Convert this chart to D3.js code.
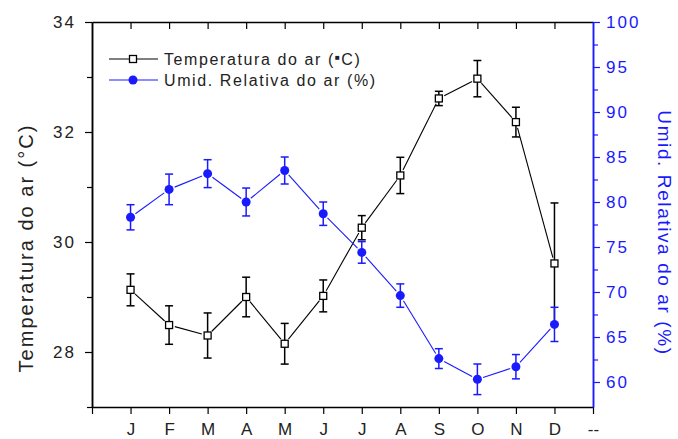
<!DOCTYPE html>
<html>
<head>
<meta charset="utf-8">
<script src="https://cdn.jsdelivr.net/npm/d3@7"></script>
<style>
  body { margin: 0; background: #fff; }
  text { font-family: "Liberation Sans", Arial, sans-serif; }
</style>
</head>
<body>
<svg id="chart" width="678" height="439"></svg>
<script>
// months + the extra "--" slot at the right edge
var months = ["J", "F", "M", "A", "M", "J", "J", "A", "S", "O", "N", "D"];
var temp = [29.13, 28.49, 28.30, 29.00, 28.15, 29.02, 30.26, 31.21, 32.61, 32.97, 32.18, 29.61];
var tempErr = [0.29, 0.35, 0.41, 0.36, 0.37, 0.29, 0.22, 0.33, 0.13, 0.33, 0.27, 1.10];
var hum = [78.3, 81.4, 83.15, 80.0, 83.5, 78.7, 74.4, 69.6, 62.6, 60.3, 61.7, 66.4];
var humErr = [1.4, 1.7, 1.55, 1.55, 1.5, 1.3, 1.2, 1.3, 1.1, 1.7, 1.35, 1.9];
var leftTicks = [28, 30, 32, 34];
var rightTicks = [60, 65, 70, 75, 80, 85, 90, 95, 100];

var blue = "#1a1aff";
var svg = d3.select("#chart");

// note: "top" is a reserved window global, so use plot* names
var plotLeft = 92, plotRight = 593, plotTop = 22, plotBottom = 407;

var x = d3.scaleLinear().domain([0, 13]).range([plotLeft, plotRight]);
var yT = d3.scaleLinear().domain([27, 34]).range([plotBottom, plotTop]);
var yH = d3.scaleLinear().domain([100 - 7 * 55 / 9, 100]).range([plotBottom, plotTop]);

var tickFont = { size: "17px", spacing: "2px" };

// ---- axes ----
// bottom
var xBottom = d3.axisBottom(x)
  .tickValues(d3.range(0, 14))
  .tickSize(7).tickSizeOuter(0)
  .tickFormat(function (d) { return d == 0 ? "" : (d == 13 ? "--" : months[d - 1]); });
var gb = svg.append("g").attr("transform", "translate(0," + plotBottom + ")").call(xBottom);
gb.selectAll("text").attr("dy", "1.05em").style("font-size", tickFont.size).attr("fill", "#222");

// top, ticks point inward
var xTop = d3.axisTop(x).tickValues(d3.range(1, 13)).tickSize(-7).tickSizeOuter(0).tickFormat("");
svg.append("g").attr("transform", "translate(0," + plotTop + ")").call(xTop);

// left
var gl = svg.append("g").attr("transform", "translate(" + plotLeft + ",0)")
  .call(d3.axisLeft(yT).tickValues(leftTicks).tickSize(7).tickSizeOuter(0).tickFormat(d3.format("d")));
gl.selectAll("text").attr("x", -16).style("font-size", tickFont.size).style("letter-spacing", tickFont.spacing).attr("fill", "#222");
svg.append("g").attr("transform", "translate(" + plotLeft + ",0)")
  .call(d3.axisLeft(yT).tickValues([27, 29, 31, 33]).tickSize(5).tickSizeOuter(0).tickFormat(""));

// right, blue
var gr = svg.append("g").attr("transform", "translate(" + plotRight + ",0)")
  .call(d3.axisRight(yH).tickValues(rightTicks).tickSize(7).tickSizeOuter(0).tickFormat(d3.format("d")));
gr.selectAll("text").attr("x", 13).style("font-size", tickFont.size).style("letter-spacing", tickFont.spacing).attr("fill", blue);
gr.selectAll("line").attr("stroke", blue);
gr.select(".domain").attr("stroke", blue);
var grm = svg.append("g").attr("transform", "translate(" + plotRight + ",0)")
  .call(d3.axisRight(yH).tickValues([62.5, 67.5, 72.5, 77.5, 82.5, 87.5, 92.5, 97.5]).tickSize(5).tickSizeOuter(0).tickFormat(""));
grm.selectAll("line").attr("stroke", blue);
grm.select(".domain").attr("stroke", blue);

svg.selectAll(".domain").attr("stroke-width", 1.5);
svg.selectAll(".tick line").attr("stroke-width", 1.2);

// axis titles
svg.append("text")
  .attr("transform", "translate(33,248) rotate(-90)")
  .attr("text-anchor", "middle")
  .style("font-size", "20px").style("letter-spacing", "2px").attr("fill", "#222")
  .text("Temperatura do ar (°C)");
svg.append("text")
  .attr("transform", "translate(658,233) rotate(90)")
  .attr("text-anchor", "middle")
  .style("font-size", "19px").style("letter-spacing", "1.6px").attr("fill", blue)
  .text("Umid. Relativa do ar (%)");

// ---- series ----
function drawSeries(vals, errs, y, color, marker) {
  var g = svg.append("g");
  var pts = vals.map(function (v, i) { return [x(i + 1), y(v)]; });
  // connecting segments, with a little gap at the symbols
  var gap = 6;
  for (var i = 0; i < pts.length - 1; i++) {
    var a = pts[i], b = pts[i + 1];
    var dx = b[0] - a[0], dy = b[1] - a[1], len = Math.sqrt(dx * dx + dy * dy);
    g.append("line")
      .attr("x1", a[0] + dx / len * gap).attr("y1", a[1] + dy / len * gap)
      .attr("x2", b[0] - dx / len * gap).attr("y2", b[1] - dy / len * gap)
      .attr("stroke", color).attr("stroke-width", 1.1);
  }
  // error bars
  vals.forEach(function (v, i) {
    var cx = x(i + 1), y1 = y(v + errs[i]), y2 = y(v - errs[i]);
    g.append("line").attr("x1", cx).attr("x2", cx).attr("y1", y1).attr("y2", y2)
      .attr("stroke", color).attr("stroke-width", 1.5);
    [y1, y2].forEach(function (yy) {
      g.append("line").attr("x1", cx - 4).attr("x2", cx + 4).attr("y1", yy).attr("y2", yy)
        .attr("stroke", color).attr("stroke-width", 1.5);
    });
  });
  pts.forEach(function (p) { marker(g, p[0], p[1]); });
}

function squareMark(g, cx, cy) {
  g.append("rect").attr("x", cx - 3.5).attr("y", cy - 3.5).attr("width", 7).attr("height", 7)
    .attr("fill", "#fff").attr("stroke", "#000").attr("stroke-width", 1.3);
}
function dotMark(g, cx, cy) {
  g.append("circle").attr("cx", cx).attr("cy", cy).attr("r", 4.5).attr("fill", blue);
}

drawSeries(temp, tempErr, yT, "#000", squareMark);
drawSeries(hum, humErr, yH, blue, dotMark);

// ---- legend ----
var leg = svg.append("g");
leg.append("line").attr("x1", 109).attr("x2", 158).attr("y1", 59).attr("y2", 59).attr("stroke", "#000");
squareMark(leg, 133, 59);
var t1 = leg.append("text").attr("x", 164).attr("y", 65).style("font-size", "16px")
  .style("letter-spacing", "1.6px").attr("fill", "#222");
t1.append("tspan").text("Temperatura do ar (");
t1.append("tspan").attr("dy", -5).style("font-size", "8px").text("■");
t1.append("tspan").attr("dy", 5).text("C)");

leg.append("line").attr("x1", 109).attr("x2", 158).attr("y1", 80).attr("y2", 80).attr("stroke", blue);
dotMark(leg, 133, 80);
leg.append("text").attr("x", 164).attr("y", 86).style("font-size", "16px")
  .style("letter-spacing", "1.6px").attr("fill", "#222")
  .text("Umid. Relativa do ar (%)");
</script>
</body>
</html>
